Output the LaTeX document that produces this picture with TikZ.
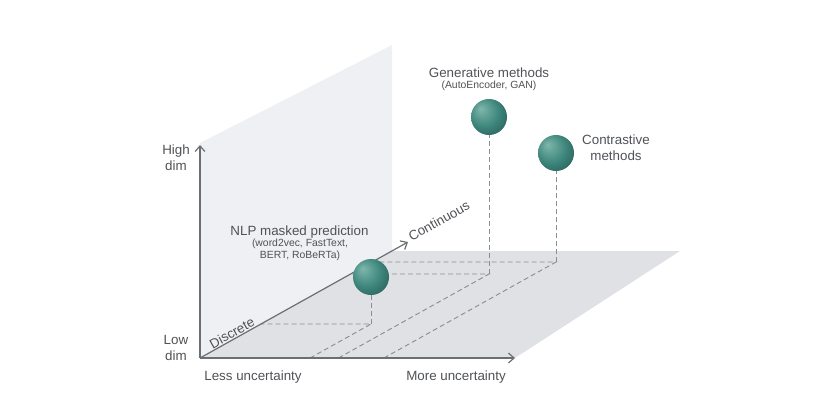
\documentclass[tikz,border=0pt]{standalone}
\usepackage{fontspec}
\setmainfont{Liberation Sans}
\usepackage{tikz}
\usetikzlibrary{calc,arrows.meta}

\definecolor{wallgray}{HTML}{EEF0F3}
\definecolor{floorgray}{HTML}{DFE1E4}
\definecolor{axisgray}{HTML}{6B6E72}
\definecolor{dashgray}{HTML}{8A8D91}
\definecolor{textgray}{HTML}{4F5256}
\definecolor{ballhi}{HTML}{80B7AC}
\definecolor{ballmid}{HTML}{3F877D}
\definecolor{balldark}{HTML}{1C4B46}
\pgfdeclareradialshading{tealball}{\pgfpoint{-12bp}{12bp}}{color(0bp)=(ballhi); color(20bp)=(ballmid); color(44bp)=(balldark); color(50bp)=(balldark)}

\begin{document}
\begin{tikzpicture}[x=0.025cm, y=0.025cm,
  axis/.style = {draw=axisgray, line width=0.85pt, -{Straight Barb[length=4pt,width=7pt]}},
  guide/.style = {draw=dashgray, line width=0.65pt, dash pattern=on 3.5pt off 2.2pt},
  ball/.style = {circle, inner sep=0pt, minimum size=0.9cm, shading=tealball},
  lbl/.style = {text=textgray, font=\fontsize{9.5}{11.5}\selectfont, align=center, inner sep=0pt},
  sub/.style = {text=textgray, font=\fontsize{7.4}{8.9}\selectfont, align=center, inner sep=0pt}]
\pgfmathsetmacro{\k}{0.558} % slope of the depth axis
\pgfmathsetmacro{\ang}{atan(\k)}
\useasboundingbox (-200,-50) rectangle (613,358);

% planes
\fill[wallgray] (0,0) -- (0,215) -- (192,313) -- (192,107) -- cycle;
\fill[floorgray] (0,0) -- (315,0) -- (480,107) -- (192,107) -- cycle;

\coordinate (O) at (0,0);
\coordinate (top) at (0,213);
\coordinate (right) at (315,0);
\coordinate (deep) at (208,116);

% NLP masked prediction
\coordinate (nlpb) at (171,34);
\coordinate (nlpx) at ({171-34/\k},0);
\coordinate (nlpd) at ({34/\k},34);
% Generative methods
\coordinate (genb) at (289,84);
\coordinate (genx) at ({289-84/\k},0);
\coordinate (gend) at ({84/\k},84);
% Contrastive methods
\coordinate (conb) at (356,96);
\coordinate (conx) at ({356-96/\k},0);
\coordinate (cond) at ({96/\k},96);

\draw[guide] (nlpx) -- (nlpb) -- (nlpd);
\draw[guide] (genx) -- (genb) -- (gend);
\draw[guide] (conx) -- (conb) -- (cond);

\draw[axis] (O) -- (top);
\draw[axis] (O) -- (right);
\draw[axis] (O) -- (deep);

\node[ball] (gen) at (289,241) {};
\node[ball] (con) at (356,205) {};
\node[ball] (nlp) at (171,81) {};
\draw[guide] (nlpb) -- (nlp.south);
\draw[guide] (genb) -- (gen.south);
\draw[guide] (conb) -- (con.south);

% axis labels
\node[lbl] (high) at (-24,200.5) {High\\dim};
\node[lbl] (low) at (-24,10) {Low\\dim};
\node[lbl] (less) at (53,-19) {Less uncertainty};
\node[lbl] (more) at (256,-19) {More uncertainty};
\node[lbl, rotate=\ang] (disc) at (32,25) {Discrete};
\node[lbl, rotate=\ang] (cont) at (239,137) {Continuous};

% method labels
\node[lbl] (nlpt) at (99.5,126) {NLP masked prediction};
\node[sub] (nlps) at (100,108) {(word2vec, FastText,\\BERT, RoBeRTa)};
\node[lbl] (gent) at (289,285) {Generative methods};
\node[sub] (gens) at (289,272) {(AutoEncoder, GAN)};
\node[lbl] (cont2) at (416,210.5) {Contrastive\\methods};
\end{tikzpicture}
\end{document}
